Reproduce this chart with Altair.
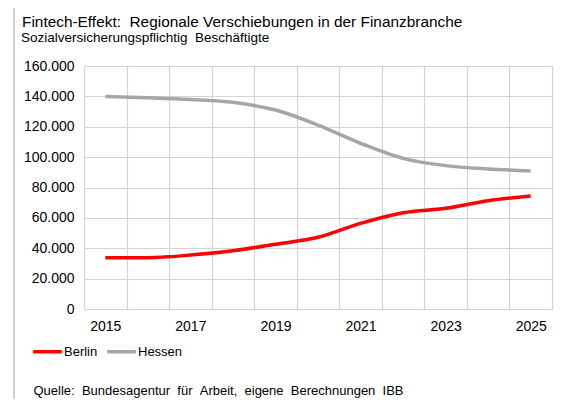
import altair as alt
import pandas as pd

years = [2015, 2016, 2017, 2018, 2019, 2020, 2021, 2022, 2023, 2024, 2025]
berlin = [33800, 33800, 35500, 38400, 42600, 47200, 56400, 63400, 66300, 71300, 74400]
hessen = [139900, 139100, 138000, 136100, 131000, 121100, 109100, 99200, 94400, 92200, 90900]
regions = ["Berlin", "Hessen"]
colors = ["#FF0000", "#A6A6A6"]
x_labels = [2015, 2017, 2019, 2021, 2023, 2025]
y_ticks = [0, 20000, 40000, 60000, 80000, 100000, 120000, 140000, 160000]
x_grid = [2014.5 + i for i in range(12)]

NB = "\u00a0"
title = f"Fintech-Effekt: {NB}Regionale Verschiebungen in der Finanzbranche"
subtitle = f"Sozialversicherungspflichtig {NB}Beschäftigte"
source = f"Quelle: {NB}Bundesagentur {NB}für {NB}Arbeit, {NB}eigene {NB}Berechnungen {NB}IBB"

rows = []
for y, b, h in zip(years, berlin, hessen):
    rows.append({"year": y, "region": "Berlin", "value": b})
    rows.append({"year": y, "region": "Hessen", "value": h})
df = pd.DataFrame(rows)

FONT = "Liberation Sans"
GRID = "#D4D4D4"

xscale = alt.Scale(domain=[2014.5, 2025.5], nice=False, zero=False)
yscale = alt.Scale(domain=[0, 160000], nice=False)

yaxis = alt.Axis(
    values=y_ticks,
    labelExpr="replace(format(datum.value, ','), regexp(',', 'g'), '.')",
    grid=True, gridColor=GRID, gridWidth=1.2,
    ticks=False, domain=False, title=None,
    labelFontSize=14, labelFont=FONT, labelColor="#000000", labelPadding=10,
)

grid_layer = alt.Chart(df).mark_line(opacity=0).encode(
    x=alt.X("year:Q", scale=xscale,
            axis=alt.Axis(orient="top", values=x_grid, grid=True, gridColor=GRID,
                          gridWidth=1.2, labels=False, ticks=False, domain=False,
                          title=None)),
    y=alt.Y("value:Q", scale=yscale, axis=yaxis),
    detail="region:N",
)

lines = alt.Chart(df).mark_line(strokeWidth=3.5, interpolate="monotone").encode(
    x=alt.X("year:Q", scale=xscale,
            axis=alt.Axis(values=x_labels, format="d", grid=False, ticks=False,
                          domain=False, labelFontSize=14, labelFont=FONT,
                          labelColor="#000000", labelPadding=10,
                          title=source, titleFont=FONT, titleFontSize=13,
                          titleFontWeight="normal", titleColor="#000000",
                          titleAnchor="start", titleAlign="left",
                          titleBaseline="middle", titleX=-51, titleY=81)),
    y=alt.Y("value:Q", scale=yscale, axis=yaxis),
    color=alt.Color("region:N",
                    scale=alt.Scale(domain=regions, range=colors),
                    legend=alt.Legend(orient="none", legendX=-53, legendY=269,
                                      direction="horizontal", title=None,
                                      symbolType="stroke", symbolSize=820,
                                      symbolStrokeWidth=3.5, labelFont=FONT,
                                      labelFontSize=13, labelColor="#000000",
                                      labelOffset=0, columnPadding=2)),
)

one = pd.DataFrame({"k": [0]})
frame = alt.Chart(one).mark_rect(fill=None, stroke="#BFBFBF", strokeWidth=1.5).encode(
    x=alt.value(-70), x2=alt.value(620), y=alt.value(-61), y2=alt.value(420)
)
title_mark = alt.Chart(one).mark_text(
    text=title, font=FONT, fontSize=15.4, color="#000000", align="left", baseline="alphabetic"
).encode(x=alt.value(-62), y=alt.value(-39))
subtitle_mark = alt.Chart(one).mark_text(
    text=subtitle, font=FONT, fontSize=13.5, color="#000000", align="left", baseline="alphabetic"
).encode(x=alt.value(-63), y=alt.value(-24))

chart = alt.layer(frame, title_mark, subtitle_mark, grid_layer, lines).resolve_axis(
    x="independent"
).properties(
    width=468, height=243,
    autosize=alt.AutoSizeParams(type="none"),
    padding={"left": 76, "top": 58, "right": 25, "bottom": 90},
).configure_view(stroke=GRID, strokeWidth=1.5).configure(background="white")

chart.save("out.html", embed_options={"renderer": "svg", "actions": False})
